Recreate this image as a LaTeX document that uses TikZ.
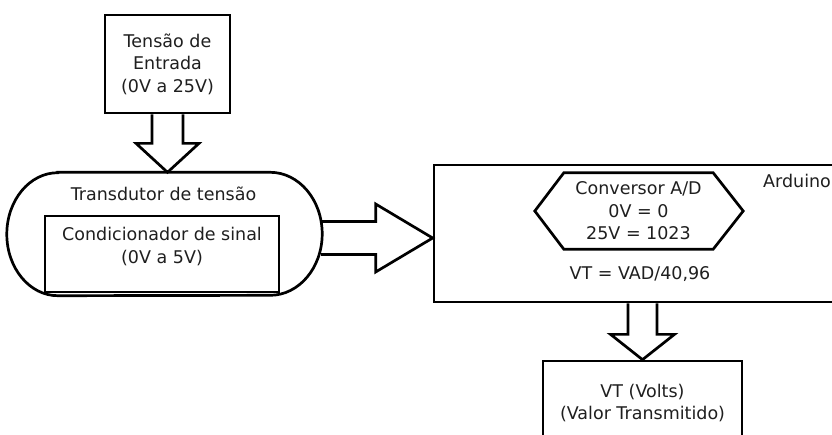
\documentclass[tikz,border=0pt]{standalone}
\usepackage{fontspec}
\setmainfont{DejaVu Sans}
\usetikzlibrary{calc}
\begin{document}
\begin{tikzpicture}[x=1pt,y=-1pt,
  ln/.style={line width=2.7pt, draw=black, line join=miter},
  box/.style={ln, rectangle, inner sep=0pt, align=center, font=\fontsize{17.5}{22.5}\selectfont},
  txt/.style={inner sep=0pt, align=center, text=black!88, font=\fontsize{17.5}{22.5}\selectfont},
  blockarrow/.style={ln, fill=white}
]
\useasboundingbox (0,0) rectangle (832,434);
\clip (0,0) rectangle (832,434);
\fill[white] (0,0) rectangle (832,434);

% nodes
\node[box, text=black!88, minimum width=125pt, minimum height=98pt] (top) at (167.5,64) {Tensão de\\Entrada\\(0V a 25V)};
\node[inner sep=0pt, minimum width=315pt, minimum height=123pt] (trans) at (164.5,234) {};
\node[txt, anchor=base] (translbl) at (163.5,200) {Transdutor de tensão};
\node[box, minimum width=234pt, minimum height=76pt] (cond) at (162,254) {};
\node[txt] (condtxt) at (162,246.5) {Condicionador de sinal\\(0V a 5V)};
\node[box, minimum width=417pt, minimum height=137pt] (ard) at (642.5,233.5) {};
\node[txt, anchor=base west] (ardlbl) at (763,187) {Arduino};
\node[txt, minimum width=149pt, minimum height=76pt] (adc) at (638.5,211) {Conversor A/D\\0V = 0\\25V = 1023};
\node[txt, anchor=base] (vt) at (640,279) {VT = VAD/40,96};
\node[box, text=black!88, minimum width=199pt, minimum height=84pt] (out) at (642.5,403) {VT (Volts)\\(Valor Transmitido)};

% transducer stadium outline
\draw[ln] ($(trans.north west)+(51,0)$) -- ($(trans.north east)+(-52,0)$)
  arc[start angle=-90, end angle=90, x radius=52, y radius=61.5]
  -- ($(trans.south west)+(51,0)$)
  arc[start angle=90, end angle=270, x radius=51, y radius=61.5] -- cycle;

% hexagon of the A/D converter
\draw[ln] (adc.north west) -- (adc.north east) -- ($(adc.east)+(30,0)$) -- (adc.south east)
  -- (adc.south west) -- ($(adc.west)+(-29,0)$) -- cycle;

% block arrow: input -> transducer
\coordinate (s1) at (top.south);
\coordinate (t1) at (top.south |- trans.north);
\draw[ln] ($(s1)+(-15.5,0)$) -- ($(s1)+(-15.5,29)$) -- ($(s1)+(-31.5,29)$) -- (t1)
  -- ($(s1)+(31.5,29)$) -- ($(s1)+(15.5,29)$) -- ($(s1)+(15.5,0)$);

% block arrow: transducer -> Arduino
\coordinate (s2) at ($(trans.east)+(-1,4)$);
\coordinate (t2) at (ard.west |- s2);
\draw[ln] ($(s2)+(0,-16.5)$) -- ($(t2)+(-57,-16.5)$) -- ($(t2)+(-57,-34)$) -- (t2)
  -- ($(t2)+(-57,34)$) -- ($(t2)+(-57,16.5)$) -- ($(s2)+(0,16.5)$);

% block arrow: Arduino -> output
\coordinate (s3) at (ard.south);
\coordinate (t3) at (out.north);
\draw[ln] ($(s3)+(-14.5,0)$) -- ($(s3)+(-14.5,31)$) -- ($(s3)+(-32,31)$) -- (t3)
  -- ($(s3)+(32,31)$) -- ($(s3)+(14.5,31)$) -- ($(s3)+(14.5,0)$);
\end{tikzpicture}
\end{document}
